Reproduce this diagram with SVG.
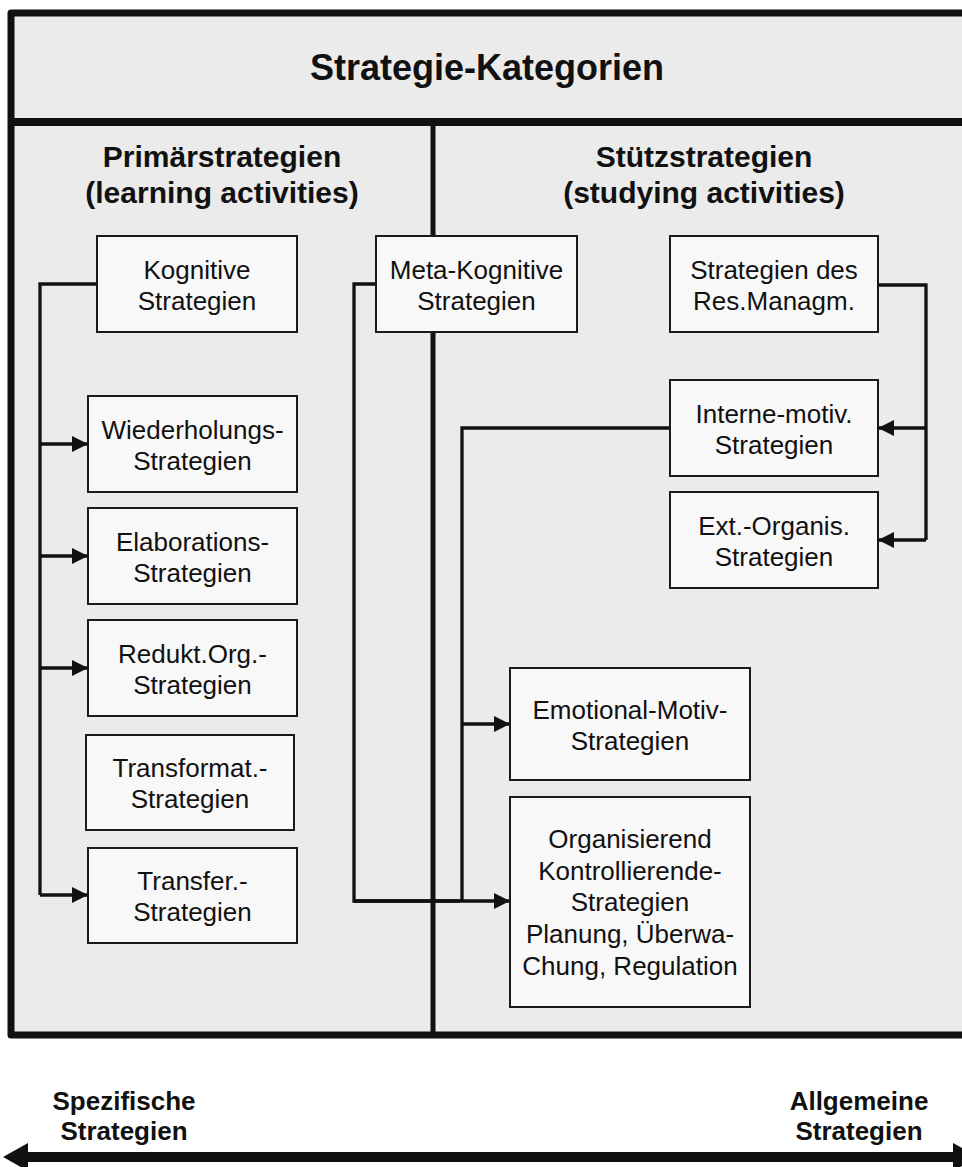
<svg xmlns="http://www.w3.org/2000/svg" width="962" height="1167" viewBox="0 0 962 1167">
<defs>
<style>
.frame{fill:#ebebeb;stroke:#111;stroke-width:7;stroke-linejoin:round}
.div{stroke:#111;stroke-width:5;fill:none}
.box{fill:#f8f8f8;stroke:#1a1a1a;stroke-width:2}
.t{font-family:"Liberation Sans",Arial,sans-serif;font-size:26px;fill:#111;text-anchor:middle}
.b{font-family:"Liberation Sans",Arial,sans-serif;font-weight:bold;fill:#111;text-anchor:middle}
.c{stroke:#111;stroke-width:3.3;fill:none}
.a{stroke:#111;stroke-width:3.3;fill:none;marker-end:url(#ah)}
</style>
<marker id="ah" viewBox="0 0 16 16" refX="16" refY="8" markerWidth="16" markerHeight="16" markerUnits="userSpaceOnUse" orient="auto">
<path d="M0,0 L16,8 L0,16 Z" fill="#111"/>
</marker>
</defs>
<rect width="962" height="1167" fill="#fff"/>
<g id="frame">
<rect class="frame" x="11" y="13" width="1000" height="1022"/>
<line class="div" x1="11" y1="122" x2="962" y2="122" style="stroke-width:8"/>
<line class="div" x1="433" y1="122" x2="433" y2="1035"/>
<text class="b" x="487" y="80" font-size="36">Strategie-Kategorien</text>
<text class="b" x="222" y="167" font-size="30">Primärstrategien</text>
<text class="b" x="222" y="203" font-size="30">(learning activities)</text>
<text class="b" x="704" y="167" font-size="30">Stützstrategien</text>
<text class="b" x="704" y="203" font-size="30">(studying activities)</text>
</g>
<g id="connectors">
<path class="c" d="M97,284 H40 V895"/>
<path class="a" d="M40,444 H88"/>
<path class="a" d="M40,556 H88"/>
<path class="a" d="M40,668 H88"/>
<path class="a" d="M40,895 H88"/>
<path class="c" d="M376,284 H354 V901 H460"/>
<path class="a" d="M354,901 H510"/>
<path class="c" d="M670,428 H462 V901"/>
<path class="a" d="M462,724 H510"/>
<path class="c" d="M878,285 H926 V540"/>
<path class="a" d="M926,428 H878"/>
<path class="a" d="M926,540 H878"/>
</g>
<g id="kognitive"><rect class="box" x="97" y="236" width="200" height="96"/><text class="t" x="197" y="279">Kognitive</text><text class="t" x="197" y="310">Strategien</text></g>
<g id="meta"><rect class="box" x="376" y="236" width="201" height="96"/><text class="t" x="476.5" y="279">Meta-Kognitive</text><text class="t" x="476.5" y="310">Strategien</text></g>
<g id="res"><rect class="box" x="670" y="236" width="208" height="96"/><text class="t" x="774" y="279">Strategien des</text><text class="t" x="774" y="310">Res.Managm.</text></g>
<g id="interne"><rect class="box" x="670" y="380" width="208" height="96"/><text class="t" x="774" y="423">Interne-motiv.</text><text class="t" x="774" y="454">Strategien</text></g>
<g id="ext"><rect class="box" x="670" y="492" width="208" height="96"/><text class="t" x="774" y="535">Ext.-Organis.</text><text class="t" x="774" y="566">Strategien</text></g>
<g id="wiederholung"><rect class="box" x="88" y="396" width="209" height="96"/><text class="t" x="192.5" y="439">Wiederholungs-</text><text class="t" x="192.5" y="470">Strategien</text></g>
<g id="elaboration"><rect class="box" x="88" y="508" width="209" height="96"/><text class="t" x="192.5" y="551">Elaborations-</text><text class="t" x="192.5" y="582">Strategien</text></g>
<g id="redukt"><rect class="box" x="88" y="620" width="209" height="96"/><text class="t" x="192.5" y="663">Redukt.Org.-</text><text class="t" x="192.5" y="694">Strategien</text></g>
<g id="transformat"><rect class="box" x="86" y="735" width="208" height="95"/><text class="t" x="190" y="777">Transformat.-</text><text class="t" x="190" y="808">Strategien</text></g>
<g id="transfer"><rect class="box" x="88" y="848" width="209" height="95"/><text class="t" x="192.5" y="890">Transfer.-</text><text class="t" x="192.5" y="921">Strategien</text></g>
<g id="emotional"><rect class="box" x="510" y="668" width="240" height="112"/><text class="t" x="630" y="719">Emotional-Motiv-</text><text class="t" x="630" y="750">Strategien</text></g>
<g id="organisierend"><rect class="box" x="510" y="797" width="240" height="210"/><text class="t" x="630" y="848">Organisierend</text><text class="t" x="630" y="880">Kontrollierende-</text><text class="t" x="630" y="911">Strategien</text><text class="t" x="630" y="943">Planung, Überwa-</text><text class="t" x="630" y="975">Chung, Regulation</text></g>
<g id="scale">
<line x1="20" y1="1157" x2="960" y2="1157" stroke="#111" stroke-width="10"/>
<polygon points="3,1157 28,1143 28,1171" fill="#111"/>
<polygon points="978,1157 953,1143 953,1171" fill="#111"/>
<text class="b" x="124" y="1110" font-size="26">Spezifische</text>
<text class="b" x="124" y="1140" font-size="26">Strategien</text>
<text class="b" x="859" y="1110" font-size="26">Allgemeine</text>
<text class="b" x="859" y="1140" font-size="26">Strategien</text>
</g>
</svg>
